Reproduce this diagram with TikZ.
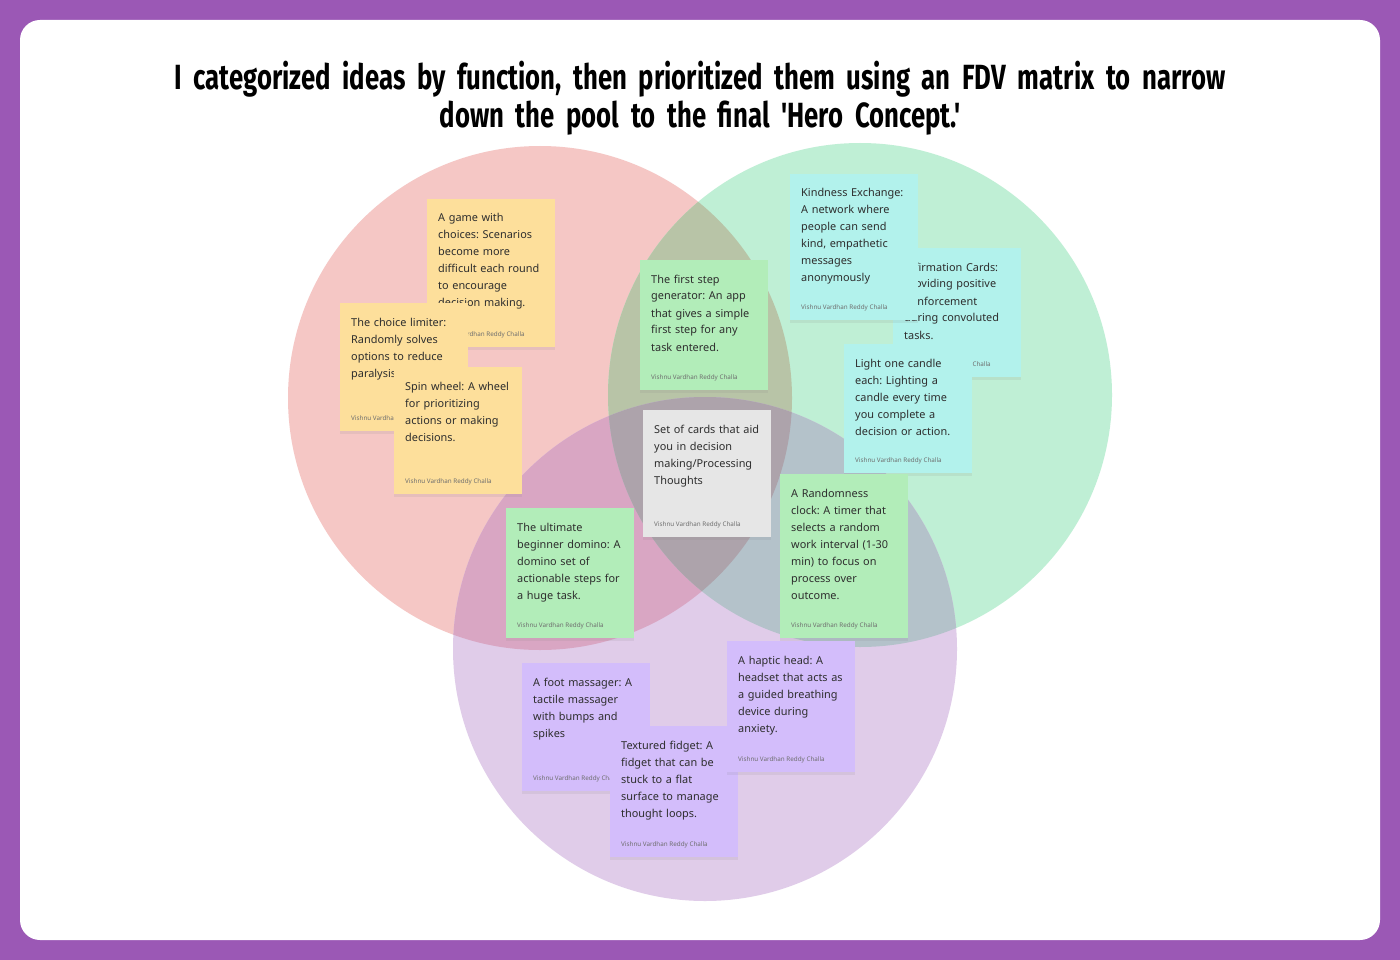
\documentclass[tikz,border=0pt]{standalone}
\usepackage{fontspec}
\setmainfont{Noto Sans}
\newfontfamily\titlefont[FakeStretch=0.735]{Fira Sans}
\usetikzlibrary{shadows}
\usetikzlibrary{calc}
\frenchspacing

\definecolor{bgpurple}{HTML}{9B58B5}
\definecolor{redzone}{HTML}{F5C7C5}
\definecolor{greenzone}{HTML}{BFEFD5}
\definecolor{purplezone}{HTML}{E0CCE9}
\definecolor{rgzone}{HTML}{B8C4A7}
\definecolor{rpzone}{HTML}{D9A6C3}
\definecolor{gpzone}{HTML}{B4C2CA}
\definecolor{allzone}{HTML}{ADA3AB}
\definecolor{noteyellow}{HTML}{FDDF9B}
\definecolor{notegreen}{HTML}{B2EDB9}
\definecolor{notecyan}{HTML}{B2F2EC}
\definecolor{notegrey}{HTML}{E6E6E6}
\definecolor{notepurple}{HTML}{D3BDFB}
\definecolor{inktext}{HTML}{2E2E2E}
\definecolor{inkauthor}{HTML}{6E6E6E}

\tikzset{
  notebox/.style={draw=none,anchor=north west,minimum width=128pt,inner sep=0pt,
    drop shadow={shadow xshift=0pt,shadow yshift=-3pt,opacity=0.12}},
  notetext/.style={anchor=base west,inner sep=0pt,text width=125pt,align=left,
    text=inktext,font=\fontsize{10.9}{17}\selectfont},
  byline/.style={anchor=base west,inner sep=0pt,text=inkauthor,font=\fontsize{6.3}{7}\selectfont}
}

% #1 nom, #2 x, #3 y, #4 hauteur, #5 couleur, #6 texte
\newcommand{\postit}[6]{%
  \node[notebox,fill=#5,minimum height=#4pt] (#1) at (#2,#3) {};
  \node[notetext] (#1-txt) at ($(#1.north west)+(11,23)$) {#6};
  \node[byline] (#1-by) at ($(#1.south west)+(11,-11)$) {Vishnu Vardhan Reddy Challa};
}

\begin{document}
\begin{tikzpicture}[x=1pt,y=-1pt]
  \useasboundingbox (0,0) rectangle (1400,960);
  % fond
  \fill[bgpurple] (0,0) rectangle (1400,960);
  \fill[white,rounded corners=20pt] (20,20) rectangle (1380,940);

  % titre
  \node[anchor=base,text width=1300pt,align=center,inner sep=0pt,
    font=\titlefont\bfseries\fontsize{35}{38}\selectfont] (title) at (700,90)
    {I categorized ideas by function, then prioritized them using an FDV matrix to narrow\\
     down the pool to the final 'Hero Concept.'};

  % les trois cercles
  \coordinate (cred) at (540,398);
  \coordinate (cgreen) at (860,395);
  \coordinate (cpurple) at (705,649);
  \fill[redzone] (cred) circle (252);
  \fill[greenzone] (cgreen) circle (252);
  \fill[purplezone] (cpurple) circle (252);
  % intersections
  \begin{scope}
    \clip (cred) circle (252);
    \fill[rgzone] (cgreen) circle (252);
    \fill[rpzone] (cpurple) circle (252);
  \end{scope}
  \begin{scope}
    \clip (cgreen) circle (252);
    \fill[gpzone] (cpurple) circle (252);
    \clip (cpurple) circle (252);
    \fill[allzone] (cred) circle (252);
  \end{scope}

  % post-its jaunes
  \postit{choices}{427}{199}{148}{noteyellow}{A game with\\choices: Scenarios\\become more\\difficult each round\\to encourage\\decision making.}
  \postit{limiter}{340}{303}{128}{noteyellow}{The choice limiter:\\Randomly solves\\options to reduce\\paralysis}
  \postit{wheel}{394}{367}{127}{noteyellow}{Spin wheel: A wheel\\for prioritizing\\actions or making\\decisions.}
  % post-its verts / cyan
  \postit{firststep}{640}{260}{130}{notegreen}{The first step\\generator: An app\\that gives a simple\\first step for any\\task entered.}
  \postit{affirm}{893}{248}{129}{notecyan}{Affirmation Cards:\\Providing positive\\reinforcement\\during convoluted\\tasks.}
  \postit{kindness}{790}{174}{146}{notecyan}{Kindness Exchange:\\A network where\\people can send\\kind, empathetic\\messages\\anonymously}
  \postit{candle}{844}{344}{129}{notecyan}{Light one candle\\each: Lighting a\\candle every time\\you complete a\\decision or action.}
  % centre
  \postit{cards}{643}{410}{127}{notegrey}{Set of cards that aid\\you in decision\\making/Processing\\Thoughts}
  \postit{domino}{506}{508}{130}{notegreen}{The ultimate\\beginner domino: A\\domino set of\\actionable steps for\\a huge task.}
  \postit{clock}{780}{474}{164}{notegreen}{A Randomness\\clock: A timer that\\selects a random\\work interval (1-30\\min) to focus on\\process over\\outcome.}
  % post-its violets
  \postit{foot}{522}{663}{128}{notepurple}{A foot massager: A\\tactile massager\\with bumps and\\spikes}
  \postit{fidget}{610}{726}{131}{notepurple}{Textured fidget: A\\fidget that can be\\stuck to a flat\\surface to manage\\thought loops.}
  \postit{haptic}{727}{641}{131}{notepurple}{A haptic head: A\\headset that acts as\\a guided breathing\\device during\\anxiety.}
\end{tikzpicture}
\end{document}
